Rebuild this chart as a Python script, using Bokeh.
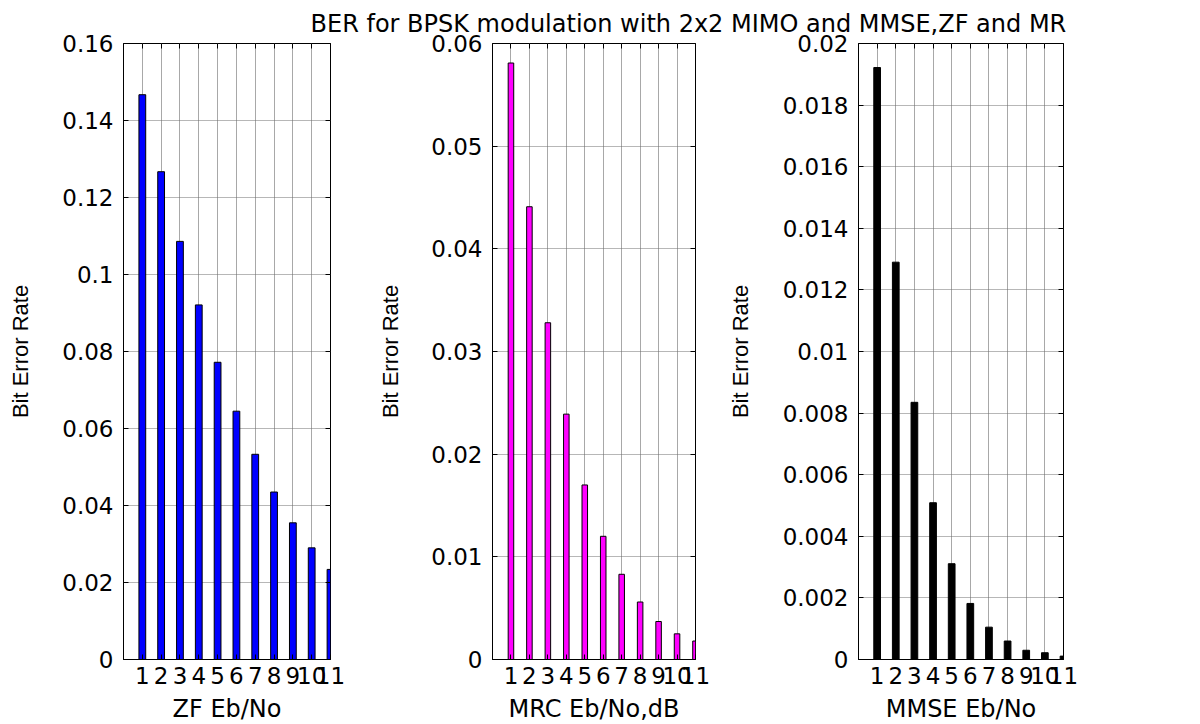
from bokeh.plotting import figure
from bokeh.layouts import column, row
from bokeh.models import Range1d, FixedTicker, LinearAxis, ColumnDataSource, Label
from bokeh.embed import file_html
from bokeh.resources import INLINE

# ---------------- data ----------------
EBNO = [1, 2, 3, 4, 5, 6, 7, 8, 9, 10, 11]
ZF_BER = [0.1467, 0.1267, 0.1086, 0.0921, 0.0772, 0.0645, 0.0533, 0.0435, 0.0355, 0.0290, 0.0234]
MRC_BER = [0.0581, 0.0441, 0.0328, 0.0239, 0.0170, 0.0120, 0.0083, 0.0056, 0.0037, 0.0025, 0.0018]
MMSE_BER = [0.01922, 0.0129, 0.00835, 0.00509, 0.00311, 0.00182, 0.00105, 0.00060, 0.00030, 0.00022, 0.00011]

ZF_YTICKS = [0, 0.02, 0.04, 0.06, 0.08, 0.1, 0.12, 0.14, 0.16]
MRC_YTICKS = [0, 0.01, 0.02, 0.03, 0.04, 0.05, 0.06]
MMSE_YTICKS = [0, 0.002, 0.004, 0.006, 0.008, 0.01, 0.012, 0.014, 0.016, 0.018, 0.02]

X_LIMITS = [0, 11]
XLABELS = ["ZF Eb/No", "MRC Eb/No,dB", "MMSE Eb/No"]
YLABEL = "Bit Error Rate"
TITLE = "BER for BPSK modulation with 2x2 MIMO and MMSE,ZF and MR"

# ---------------- style ----------------
TICK_FONT = "DejaVu Sans"
LABEL_FONT = "DejaVu Sans"
YLABEL_FONT = "Liberation Sans"
FRAME_H = 616
TITLE_H = 36


def panel(values, yticks, color, xlabel, bar_w, bl, fw, br, ylab_standoff):
    p = figure(frame_width=fw, frame_height=FRAME_H,
               x_range=Range1d(X_LIMITS[0], X_LIMITS[1]),
               y_range=Range1d(yticks[0], yticks[-1]),
               output_backend="svg", toolbar_location=None, title=None,
               min_border_left=bl, min_border_right=br,
               min_border_top=14, min_border_bottom=0,
               background_fill_color="white", border_fill_color=None,
               outline_line_color="black", outline_line_width=1)
    src = ColumnDataSource(dict(x=EBNO, top=values))
    p.vbar(x="x", top="top", bottom=0, width=bar_w, source=src,
           fill_color=color, line_color="black", line_width=1)

    xt = FixedTicker(ticks=EBNO)
    yt = FixedTicker(ticks=yticks)
    p.xgrid.ticker = xt
    p.ygrid.ticker = yt
    p.xgrid.grid_line_color = "#a8a8a8"
    p.xgrid.grid_line_width = 1
    p.ygrid.grid_line_color = "#6e6e6e"
    p.ygrid.grid_line_dash = "1 1"
    p.ygrid.grid_line_width = 1

    xa = p.xaxis[0]
    xa.ticker = xt
    xa.major_tick_in = 5
    xa.major_tick_out = 0
    xa.minor_tick_line_color = None
    xa.axis_line_color = "black"
    xa.major_label_text_font = TICK_FONT
    xa.major_label_text_font_size = "23px"
    xa.major_label_text_color = "black"
    xa.major_label_standoff = 7
    xa.axis_label = xlabel
    xa.axis_label_text_font = LABEL_FONT
    xa.axis_label_text_font_size = "24px"
    xa.axis_label_text_font_style = "normal"
    xa.axis_label_text_color = "black"
    xa.axis_label_standoff = 8

    ya = p.yaxis[0]
    ya.ticker = yt
    ya.major_label_overrides = {t: f"{t:g}" for t in yticks}
    ya.major_tick_in = 5
    ya.major_tick_out = 0
    ya.minor_tick_line_color = None
    ya.axis_line_color = "black"
    ya.major_label_text_font = TICK_FONT
    ya.major_label_text_font_size = "23px"
    ya.major_label_text_color = "black"
    ya.major_label_standoff = 10
    ya.axis_label = YLABEL
    ya.axis_label_text_font = YLABEL_FONT
    ya.axis_label_text_font_size = "22px"
    ya.axis_label_text_font_style = "normal"
    ya.axis_label_text_color = "black"
    ya.axis_label_standoff = ylab_standoff

    top_ax = LinearAxis(ticker=FixedTicker(ticks=EBNO), major_tick_in=5, major_tick_out=0,
                        minor_tick_line_color=None, axis_line_color=None,
                        major_label_text_font_size="1px", major_label_text_color=None,
                        major_label_standoff=0)
    right_ax = LinearAxis(ticker=FixedTicker(ticks=yticks), major_tick_in=5, major_tick_out=0,
                          minor_tick_line_color=None, axis_line_color=None,
                          major_label_text_font_size="1px", major_label_text_color=None,
                          major_label_standoff=0)
    p.add_layout(top_ax, "above")
    p.add_layout(right_ax, "right")
    return p


p1 = panel(ZF_BER, ZF_YTICKS, "#0000ff", XLABELS[0], 0.36, 123, 207, 40, 26)
p2 = panel(MRC_BER, MRC_YTICKS, "#ff00ff", XLABELS[1], 0.30, 122, 203, 25, 25)
p3 = panel(MMSE_BER, MMSE_YTICKS, "#000000", XLABELS[2], 0.36, 138, 205, 135, 27)

tp = figure(width=1198, height=TITLE_H, x_range=Range1d(0, 1198), y_range=Range1d(0, TITLE_H),
            x_axis_type=None, y_axis_type=None, output_backend="svg", toolbar_location=None,
            title=None, min_border=0, outline_line_color=None,
            background_fill_color=None, border_fill_color=None)
tp.grid.visible = False
tp.add_layout(Label(x=310, y=13, text=TITLE, text_font="DejaVu Sans", text_font_size="24px",
                    text_color="black", text_baseline="alphabetic", text_align="left"))

plots = row(p1, p2, p3, spacing=0, margin=(-7, 0, 0, 0))
layout = column(tp, plots, spacing=0)

open("out.html", "w").write(file_html(layout, INLINE))
